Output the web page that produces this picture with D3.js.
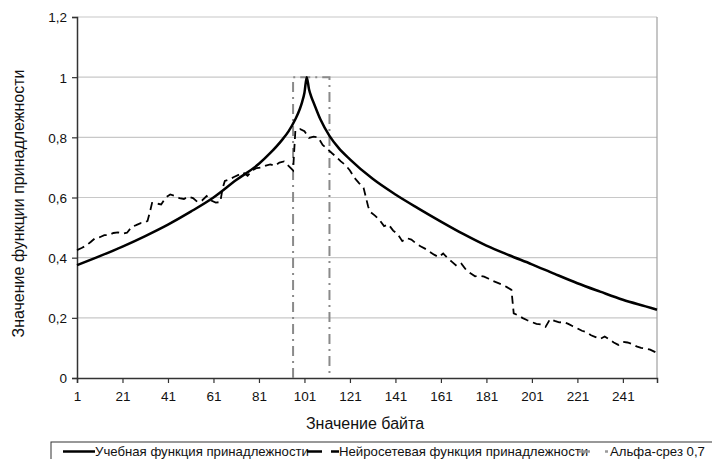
<!DOCTYPE html>
<html>
<head>
<meta charset="utf-8">
<script src="https://cdn.jsdelivr.net/npm/d3@7"></script>
<style>
  body { margin: 0; background: #fff; }
  svg { font-family: "Liberation Sans", Arial, sans-serif; }
</style>
</head>
<body>
<svg id="chart" width="712" height="459"></svg>
<script>
const width = 712
const height = 459

// Учебная функция принадлежности (x, value)
const trainX = [1, 11, 21, 31, 41, 51, 61, 71, 81, 86, 91, 94, 97, 99, 100, 101, 102,
    103, 104, 105, 108, 112, 116, 121, 131, 141, 151, 161, 171, 181, 191, 201, 211, 221, 231, 241, 251, 256];
const trainY = [0.375, 0.405, 0.437, 0.472, 0.51, 0.553, 0.60, 0.658, 0.712, 0.748, 0.79, 0.82, 0.86, 0.895, 0.918, 0.948, 1.0,
    0.96, 0.935, 0.916, 0.86, 0.805, 0.765, 0.727, 0.662, 0.61, 0.564, 0.52, 0.478, 0.44, 0.408, 0.378, 0.346, 0.315, 0.287, 0.26, 0.238, 0.227];

// Нейросетевая функция принадлежности (x, value)
const netX = [1, 3, 5, 7, 9, 11, 13, 15, 17, 19, 21, 23, 25, 27, 29, 31, 32, 33, 34, 36, 38, 40, 42, 44, 46, 48, 50,
    52, 54, 56, 58, 60, 62, 64, 65, 66, 68, 70, 72, 74, 76, 78, 80, 82, 84, 86, 88, 90, 92, 94, 96, 97, 99, 101,
    103, 105, 107, 109, 111, 113, 115, 117, 119, 121, 123, 125, 127, 129, 130, 132, 134, 136, 138, 140, 142, 144,
    146, 148, 150, 152, 154, 156, 158, 160, 162, 164, 166, 168, 170, 172, 174, 176, 178, 180, 182, 184, 186, 188,
    190, 192, 193, 195, 197, 199, 201, 203, 205, 207, 209, 211, 213, 215, 217, 219, 221, 223, 225, 227, 229, 231,
    233, 235, 237, 239, 241, 243, 245, 247, 249, 251, 253, 255, 256];
const netY = [0.425, 0.432, 0.44, 0.452, 0.465, 0.468, 0.475, 0.475, 0.482, 0.484, 0.48, 0.483, 0.502, 0.508, 0.515, 0.517, 0.522, 0.55, 0.582, 0.58, 0.577, 0.6, 0.61, 0.605, 0.598, 0.595, 0.603,
    0.598, 0.585, 0.59, 0.605, 0.59, 0.583, 0.585, 0.63, 0.655, 0.66, 0.668, 0.675, 0.683, 0.672, 0.69, 0.698, 0.70, 0.706, 0.71, 0.705, 0.716, 0.72, 0.705, 0.69, 0.822, 0.828, 0.82,
    0.798, 0.802, 0.8, 0.775, 0.762, 0.748, 0.735, 0.72, 0.708, 0.69, 0.665, 0.648, 0.632, 0.57, 0.552, 0.54, 0.525, 0.505, 0.51, 0.49, 0.478, 0.455,
    0.465, 0.46, 0.448, 0.438, 0.43, 0.42, 0.41, 0.402, 0.414, 0.398, 0.385, 0.372, 0.38, 0.36, 0.348, 0.338, 0.34, 0.337, 0.33, 0.322, 0.316, 0.31,
    0.302, 0.293, 0.215, 0.208, 0.199, 0.192, 0.186, 0.18, 0.178, 0.17, 0.196, 0.19, 0.185, 0.186, 0.18, 0.172, 0.165, 0.157, 0.152, 0.142, 0.136, 0.13,
    0.138, 0.128, 0.118, 0.11, 0.12, 0.118, 0.113, 0.105, 0.1, 0.098, 0.094, 0.087, 0.082];

// Альфа-срез 0,7
const alphaX = [96, 96, 112, 112];
const alphaY = [0, 1, 1, 0];

const xTicks = [1, 21, 41, 61, 81, 101, 121, 141, 161, 181, 201, 221, 241];
const yTicks = [0, 0.2, 0.4, 0.6, 0.8, 1, 1.2];
const legendLabels = ['Учебная функция принадлежности', 'Нейросетевая функция принадлежности', 'Альфа-срез 0,7'];

const margin = { left: 77, right: 55, top: 17, bottom: 81 };
const plotW = width - margin.left - margin.right;
const plotH = height - margin.top - margin.bottom;

var svg = d3.select('#chart');
var g = svg.append('g').attr('transform', `translate(${margin.left},${margin.top})`);

var xScale = d3.scaleLinear().domain([1, 256]).range([0, plotW]);
var yScale = d3.scaleLinear().domain([0, 1.2]).range([plotH, 0]);

// Grid lines
g.selectAll('line.grid')
    .data(yTicks.filter(d => d > 0))
    .enter()
    .append('line')
    .attr('class', 'grid')
    .attr('x1', 0).attr('x2', plotW)
    .attr('y1', d => yScale(d)).attr('y2', d => yScale(d))
    .attr('stroke', '#c8c8c8')
    .attr('stroke-width', 1.2);

// Right border
g.append('line')
    .attr('x1', plotW).attr('x2', plotW)
    .attr('y1', 0).attr('y2', plotH)
    .attr('stroke', '#a0a0a0')
    .attr('stroke-width', 1.2);

// Axes
var xAxis = g.append('g')
    .attr('transform', `translate(0,${plotH})`)
    .call(d3.axisBottom(xScale).tickValues(xTicks).tickSize(5).tickPadding(8).tickFormat(d3.format('d')));
var yAxis = g.append('g')
    .call(d3.axisLeft(yScale).tickValues(yTicks).tickSize(5).tickPadding(5)
        .tickFormat(d => String(d).replace('.', ',')));

[xAxis, yAxis].forEach(a => {
    a.select('.domain').attr('stroke', '#333').attr('stroke-width', 1.5);
    a.selectAll('.tick line').attr('stroke', '#333').attr('stroke-width', 1.2);
    a.selectAll('text').attr('font-size', 13.5).attr('fill', '#111')
        .style('font-family', '"Liberation Sans", Arial, sans-serif');
});
yAxis.selectAll('text').attr('dy', '0.36em');

var line = d3.line()
    .x(d => xScale(d[0]))
    .y(d => yScale(d[1]));

// Alpha cut
g.append('path')
    .datum(d3.zip(alphaX, alphaY))
    .attr('d', line)
    .attr('fill', 'none')
    .attr('stroke', '#8a8a8a')
    .attr('stroke-width', 2)
    .attr('stroke-dasharray', '10,5,2,5');

// Neural net function
g.append('path')
    .datum(d3.zip(netX, netY))
    .attr('d', line)
    .attr('fill', 'none')
    .attr('stroke', '#000')
    .attr('stroke-width', 1.8)
    .attr('stroke-dasharray', '8,5');

// Training function
g.append('path')
    .datum(d3.zip(trainX, trainY))
    .attr('d', line.curve(d3.curveMonotoneX))
    .attr('fill', 'none')
    .attr('stroke', '#000')
    .attr('stroke-width', 2.5);

// Axis titles
svg.append('text')
    .attr('x', margin.left + plotW / 2 - 2)
    .attr('y', 429)
    .attr('text-anchor', 'middle')
    .attr('font-size', 16)
    .attr('fill', '#111')
    .text('Значение байта');

svg.append('text')
    .attr('transform', `translate(24,${margin.top + plotH / 2 + 6}) rotate(-90)`)
    .attr('text-anchor', 'middle')
    .attr('font-size', 16)
    .attr('fill', '#111')
    .text('Значение функции принадлежности');

// Legend
var legend = svg.append('g');
legend.append('rect')
    .attr('x', 51).attr('y', 442)
    .attr('width', 700).attr('height', 40)
    .attr('fill', '#fff')
    .attr('stroke', '#333')
    .attr('stroke-width', 1);

var legendItems = [
    { x: 63, label: legendLabels[0], stroke: '#000', w: 2.5, dash: null },
    { x: 307, label: legendLabels[1], stroke: '#000', w: 2.5, dash: '15,9' },
    { x: 578, label: legendLabels[2], stroke: '#9a9a9a', w: 2.5, dash: '12,15,3,20' }
];
legendItems.forEach(item => {
    legend.append('line')
        .attr('x1', item.x).attr('x2', item.x + 32)
        .attr('y1', 451.5).attr('y2', 451.5)
        .attr('stroke', item.stroke)
        .attr('stroke-width', item.w)
        .attr('stroke-dasharray', item.dash);
    legend.append('text')
        .attr('x', item.x + 32)
        .attr('y', 456)
        .attr('font-size', 13.2)
        .attr('fill', '#111')
        .text(item.label);
});
</script>
</body>
</html>
